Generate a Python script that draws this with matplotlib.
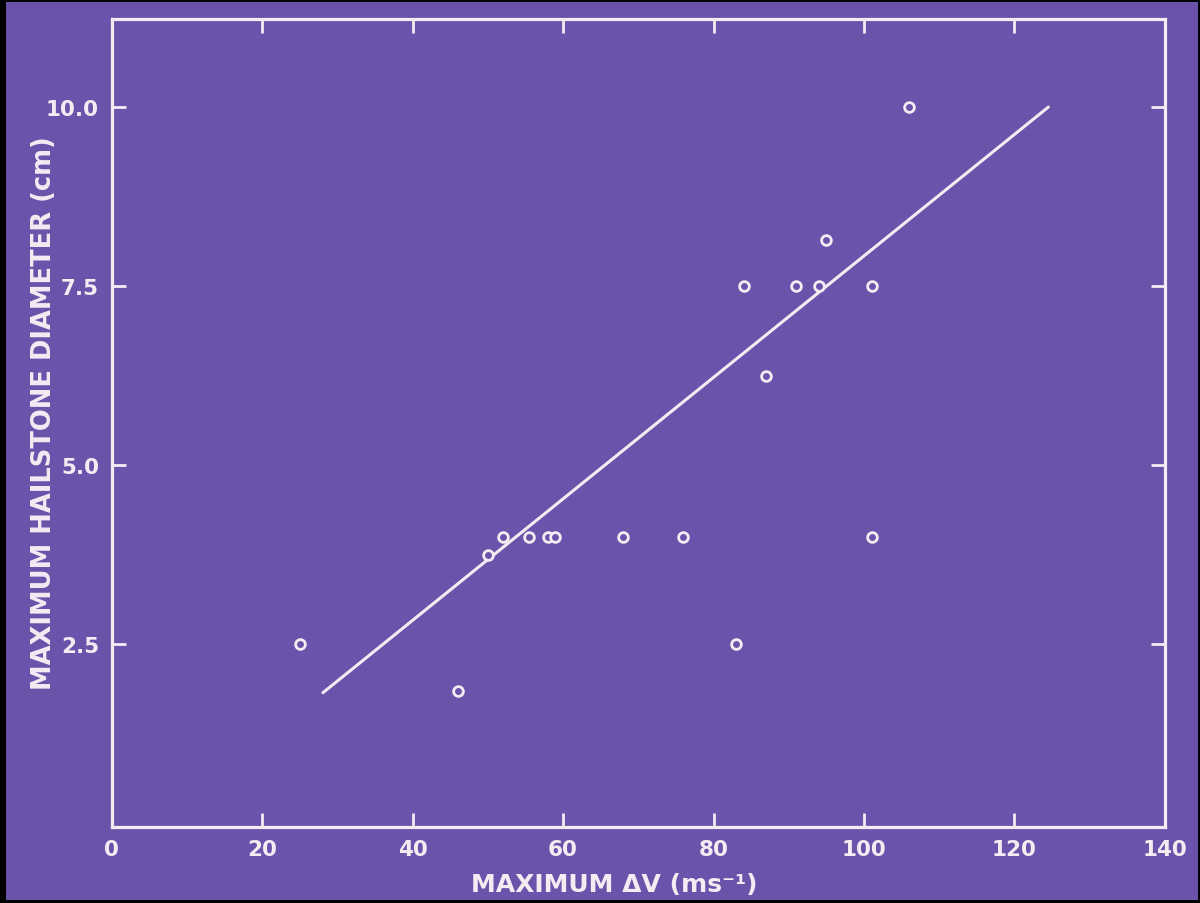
import matplotlib.pyplot as plt
from matplotlib.patches import Rectangle

# data
dv = [25, 46, 50, 52, 55.5, 58, 59, 68, 76, 83, 84, 87, 91, 94, 95, 101, 101, 106]
hail = [2.5, 1.85, 3.75, 4.0, 4.0, 4.0, 4.0, 4.0, 4.0, 2.5, 7.5, 6.25, 7.5, 7.5, 8.15, 7.5, 4.0, 10.0]

fit_x = [28.1, 124.5]
fit_y = [1.82, 10.0]

x_ticks = [0, 20, 40, 60, 80, 100, 120, 140]
y_ticks = [2.5, 5.0, 7.5, 10.0]
y_labels = ['2.5', '5.0', '7.5', '10.0']

BG = '#6b52aa'
FG = '#f3ecf3'

plt.rcParams['font.family'] = ['DejaVu Sans']

fig = plt.figure(figsize=(12, 9.04), dpi=100)
fig.patch.set_facecolor('black')
# purple slide inside a thin black frame (drawn beneath the axes)
fig.patches.append(Rectangle((6 / 1200, 3 / 904), 1192 / 1200, 898 / 904,
                             transform=fig.transFigure, facecolor=BG,
                             edgecolor='none', zorder=-5))

ax = fig.add_axes([111.5 / 1200, 76 / 904, 1053.5 / 1200, 808 / 904])
ax.set_facecolor(BG)

ax.plot(fit_x, fit_y, color=FG, lw=2.2, solid_capstyle='round', zorder=2)
ax.plot(dv, hail, linestyle='none', marker='o', ms=7, mfc=BG, mec=FG,
        mew=2.0, zorder=3)

ax.set_xlim(0, 139.5)
ax.set_ylim(-0.056, 11.23)
ax.set_xticks(x_ticks)
ax.set_yticks(y_ticks)
ax.set_yticklabels(y_labels)

for s in ax.spines.values():
    s.set_color(FG)
    s.set_linewidth(2.3)

ax.tick_params(axis='both', direction='in', length=10, width=2.0, color=FG,
               labelcolor=FG, labelsize=15.5, top=True, right=True, pad=9)
ax.tick_params(axis='x', pad=9)
for lab in ax.get_xticklabels() + ax.get_yticklabels():
    lab.set_fontweight('bold')

ax.set_xlabel('MAXIMUM ΔV (ms⁻¹)', color=FG, fontsize=18,
              fontweight='bold')
ax.xaxis.set_label_coords(0.477, -0.056)
ax.set_ylabel('MAXIMUM HAILSTONE DIAMETER (cm)', color=FG, fontsize=18.5,
              fontweight='bold')
ax.yaxis.set_label_coords(-0.052, 0.514)

fig.savefig('out.png', dpi=100, facecolor=fig.get_facecolor())
